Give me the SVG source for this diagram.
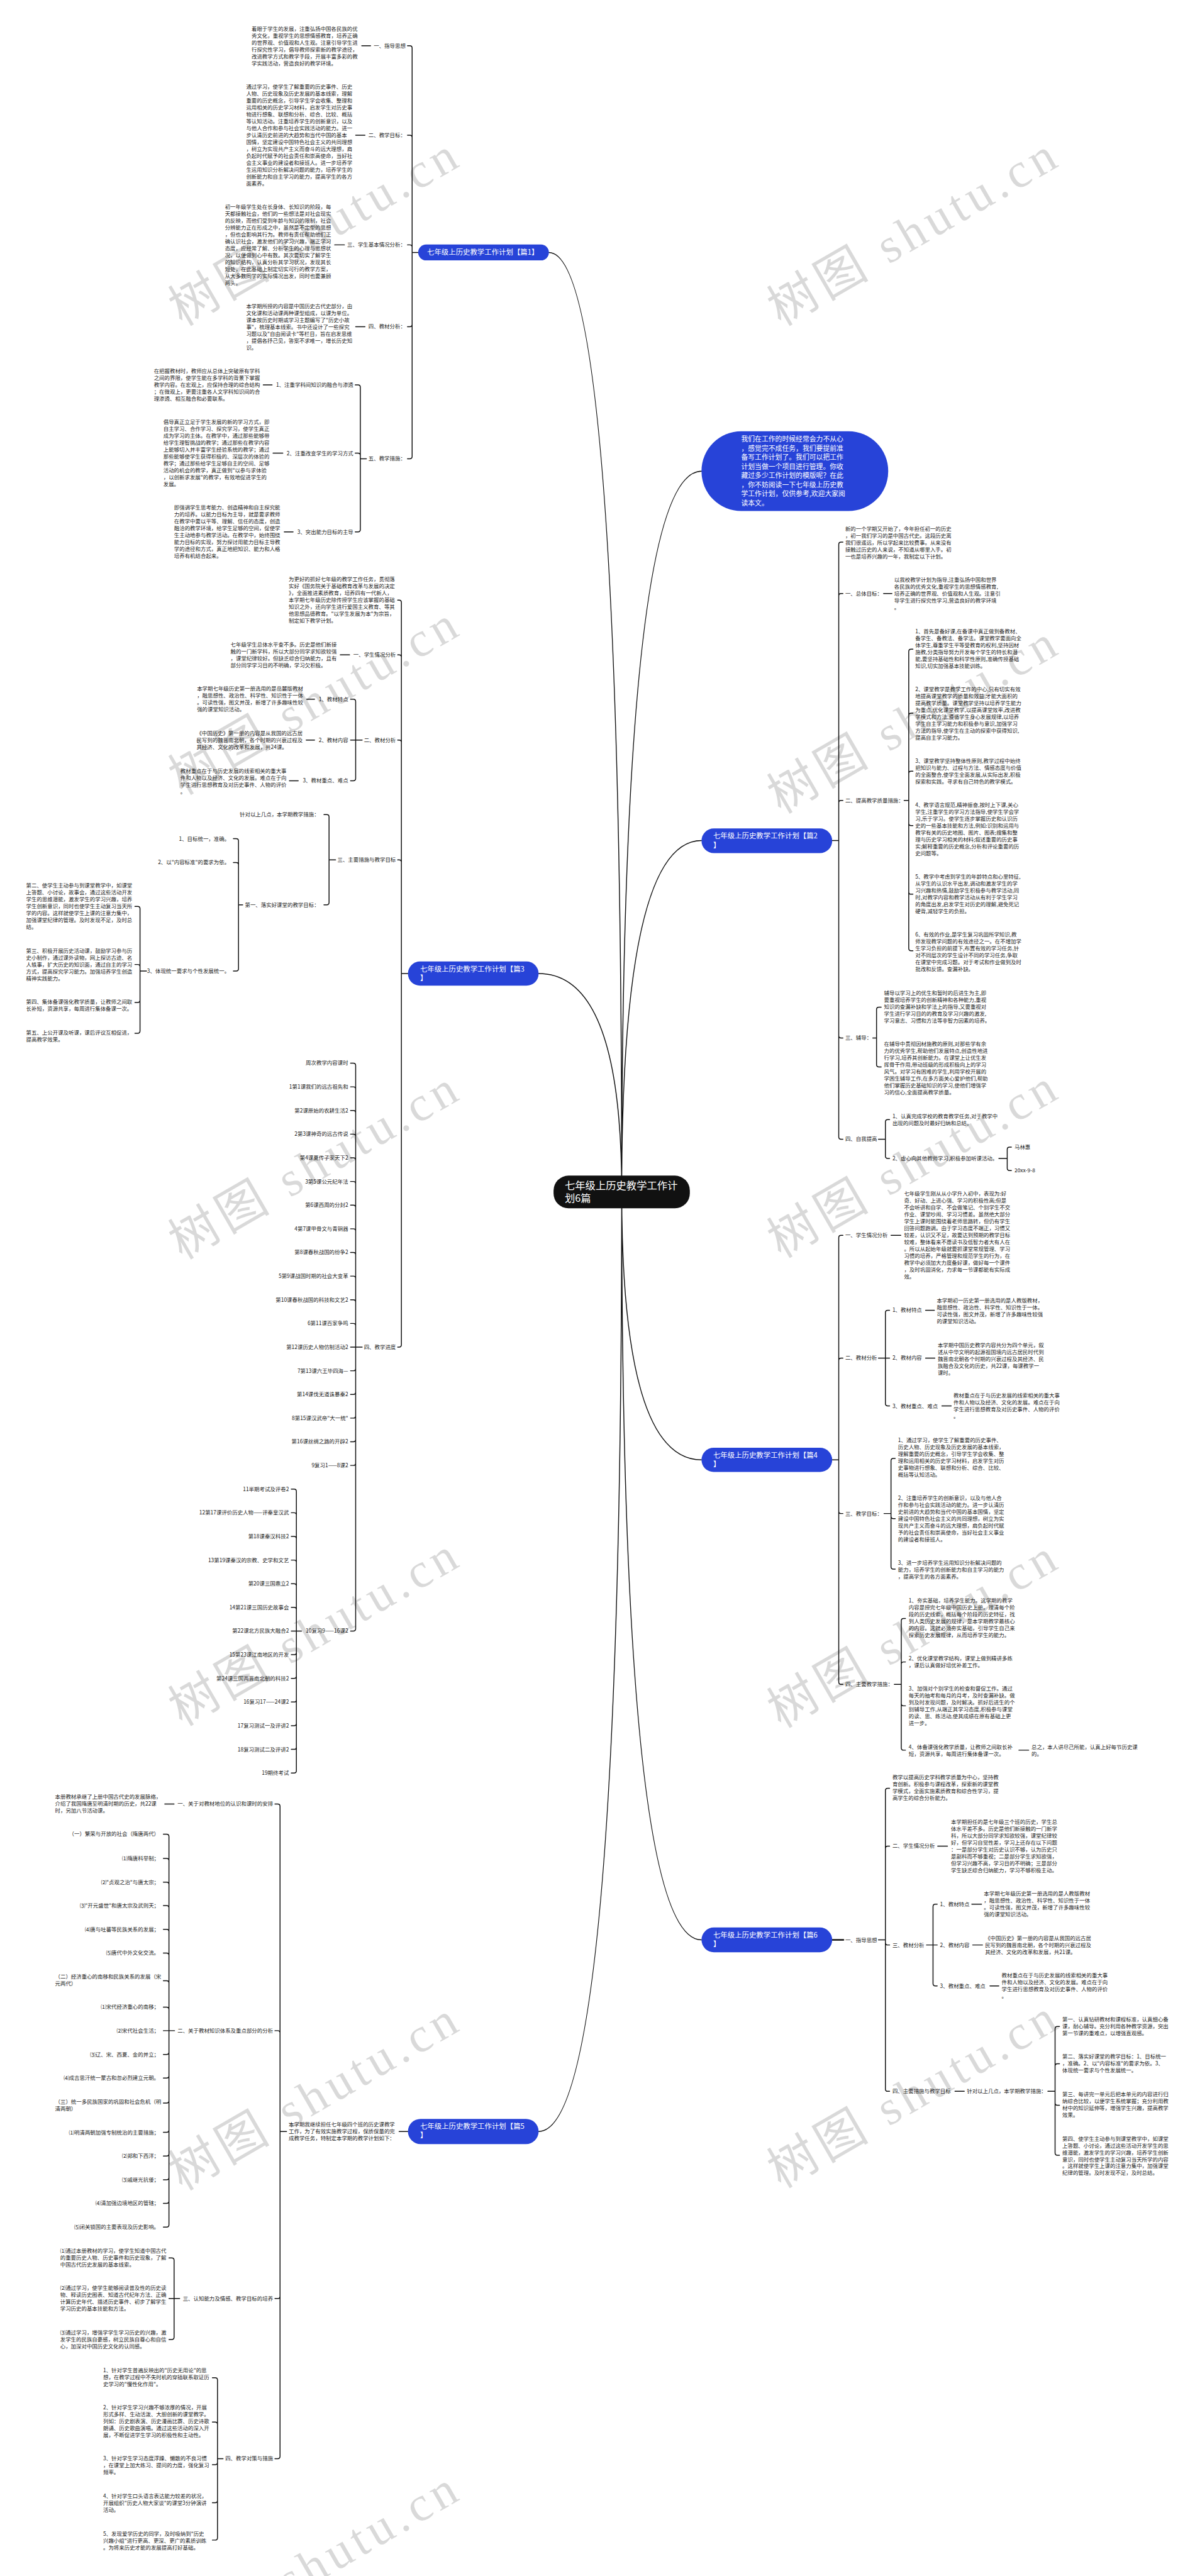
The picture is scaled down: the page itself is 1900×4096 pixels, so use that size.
<svg xmlns="http://www.w3.org/2000/svg" width="1900" height="4096" viewBox="0 0 1900 4096">
<style>
.t{font-family:"Noto Sans CJK SC","Liberation Sans",sans-serif;font-size:11.4px;fill:#1a1a1a}
.r{text-anchor:end}
.nt{font-family:"Noto Sans CJK SC","Liberation Sans",sans-serif;font-size:15.4px;fill:#fff}
.ct{font-family:"Noto Sans CJK SC","Liberation Sans",sans-serif;font-size:22px;fill:#fff}
.bn{fill:#2743d8}
.c{fill:none;stroke:#111;stroke-width:2;stroke-linecap:round;stroke-linejoin:round}
.wm{font-family:"Liberation Serif","Noto Sans CJK SC",serif;font-size:105px;fill:#000;fill-opacity:0.15}
</style>
<rect width="1900" height="4096" fill="#fff"/>
<g transform="scale(0.7421)">
<g id="watermarks" class="wm">
<text x="390" y="700" transform="rotate(-30 390 700)" textLength="690">树图 shutu.cn</text>
<text x="1673" y="700" transform="rotate(-30 1673 700)" textLength="690">树图 shutu.cn</text>
<text x="390" y="1705" transform="rotate(-30 390 1705)" textLength="690">树图 shutu.cn</text>
<text x="1673" y="1745" transform="rotate(-30 1673 1745)" textLength="690">树图 shutu.cn</text>
<text x="390" y="2700" transform="rotate(-30 390 2700)" textLength="690">树图 shutu.cn</text>
<text x="1673" y="2697" transform="rotate(-30 1673 2697)" textLength="690">树图 shutu.cn</text>
<text x="390" y="3700" transform="rotate(-30 390 3700)" textLength="690">树图 shutu.cn</text>
<text x="1673" y="3704" transform="rotate(-30 1673 3704)" textLength="690">树图 shutu.cn</text>
<text x="390" y="4695" transform="rotate(-30 390 4695)" textLength="690">树图 shutu.cn</text>
<text x="1673" y="4690" transform="rotate(-30 1673 4690)" textLength="690">树图 shutu.cn</text>
<text x="390" y="5700" transform="rotate(-30 390 5700)" textLength="690">树图 shutu.cn</text>
</g>
<g id="connectors" class="c">
<path d="M1332,2554Q1332,1009.5 1503,1009.5 M1332,2554Q1332,1801 1503,1801 M1332,2554Q1332,3128 1503,3128 M1332,2554Q1332,4156.5 1503,4156.5 M1332,2554Q1332,541 1176,541 M1332,2554Q1332,2086 1154,2086 M1332,2554Q1332,4567 1154,4567"/>
<path d="M896,541H883 M883,541V103Q883,98 878,98H873 M883,541V294.6Q883,289.6 878,289.6H873 M883,541V529.7Q883,524.7 878,524.7H873 M883,541V695Q883,700 878,700H873 M883,541V978Q883,983 878,983H873"/>
<path d="M785,983H772 M772,983V829.6Q772,824.6 767,824.6H761 M772,983V976Q772,971 767,971H761 M772,983V1134.6Q772,1139.6 767,1139.6H761"/>
<path d="M775,98H794 M762,289.6H782 M717,524.7H738 M762,700H782 M564,824.6H583 M585,971H606 M609,1139.6H628"/>
<path d="M874,2086H860 M860,2086V1291Q860,1286 855,1286H852 M860,2086V1408Q860,1403 855,1403H852 M860,2086V1590.6Q860,1585.6 855,1585.6H852 M860,2086V1847.5Q860,1842.5 855,1842.5H852 M860,2086V2881.4Q860,2886.4 855,2886.4H852"/>
<path d="M776,1585.6H762 M762,1585.6V1503Q762,1498 757,1498H751 M762,1585.6H751 M762,1585.6V1667.8Q762,1672.8 757,1672.8H751"/>
<path d="M719,1842.5H705 M705,1842.5V1750.5Q705,1745.5 700,1745.5H694 M705,1842.5V1933.8Q705,1938.8 700,1938.8H694"/>
<path d="M520,1938.8H511 M511,1938.8V1802Q511,1797 506,1797H500 M511,1938.8V1853Q511,1848 506,1848H500 M511,1938.8V2075.5Q511,2080.5 506,2080.5H500"/>
<path d="M314,2080.5H300 M300,2080.5V1947Q300,1942 295,1942H289 M300,2080.5V2071.6Q300,2066.6 295,2066.6H289 M300,2080.5V2143Q300,2148 295,2148H289 M300,2080.5V2209Q300,2214 295,2214H289"/>
<path d="M729,1403H749 M657,1498H674 M656,1585.6H674 M620,1672.8H639"/>
<path d="M776,2886.4H762 M762,2886.4V2283Q762,2278 757,2278H751 M762,2886.4V2333.7Q762,2328.7 757,2328.7H751 M762,2886.4V2384.4Q762,2379.4 757,2379.4H751 M762,2886.4V2435.1Q762,2430.1 757,2430.1H751 M762,2886.4V2485.8Q762,2480.8 757,2480.8H751 M762,2886.4V2536.5Q762,2531.5 757,2531.5H751 M762,2886.4V2587.2Q762,2582.2 757,2582.2H751 M762,2886.4V2637.9Q762,2632.9 757,2632.9H751 M762,2886.4V2688.6Q762,2683.6 757,2683.6H751 M762,2886.4V2739.3Q762,2734.3 757,2734.3H751 M762,2886.4V2790Q762,2785 757,2785H751 M762,2886.4V2840.7Q762,2835.7 757,2835.7H751 M762,2886.4H751 M762,2886.4V2932.1Q762,2937.1 757,2937.1H751 M762,2886.4V2982.8Q762,2987.8 757,2987.8H751 M762,2886.4V3033.5Q762,3038.5 757,3038.5H751 M762,2886.4V3084.2Q762,3089.2 757,3089.2H751 M762,2886.4V3134.9Q762,3139.9 757,3139.9H751 M762,2886.4V3489.8Q762,3494.8 757,3494.8H751"/>
<path d="M646,3494.8H635 M635,3494.8V3195.6Q635,3190.6 630,3190.6H624 M635,3494.8V3246.3Q635,3241.3 630,3241.3H624 M635,3494.8V3297Q635,3292 630,3292H624 M635,3494.8V3347.7Q635,3342.7 630,3342.7H624 M635,3494.8V3398.4Q635,3393.4 630,3393.4H624 M635,3494.8V3449.1Q635,3444.1 630,3444.1H624 M635,3494.8H624 M635,3494.8V3540.5Q635,3545.5 630,3545.5H624 M635,3494.8V3591.2Q635,3596.2 630,3596.2H624 M635,3494.8V3641.9Q635,3646.9 630,3646.9H624 M635,3494.8V3692.6Q635,3697.6 630,3697.6H624 M635,3494.8V3743.3Q635,3748.3 630,3748.3H624 M635,3494.8V3794Q635,3799 630,3799H624"/>
<path d="M855,4567H874 M614,4567H600 M600,4567V3870.4Q600,3865.4 595,3865.4H589 M600,4567V4356Q600,4351 595,4351H589 M600,4567V4920Q600,4925 595,4925H589 M600,4567V5263Q600,5268 595,5268H589 M353,3865.4H373"/>
<path d="M374,4351H362 M362,4351V3935Q362,3930 357,3930H350 M362,4351V3986.8Q362,3981.8 357,3981.8H350 M362,4351V4037.7Q362,4032.7 357,4032.7H350 M362,4351V4088Q362,4083 357,4083H350 M362,4351V4138.8Q362,4133.8 357,4133.8H350 M362,4351V4189.7Q362,4184.7 357,4184.7H350 M362,4351V4249Q362,4244 357,4244H350 M362,4351V4305.5Q362,4300.5 357,4300.5H350 M362,4351H350 M362,4351V4397Q362,4402 357,4402H350 M362,4351V4447.5Q362,4452.5 357,4452.5H350 M362,4351V4501Q362,4506 357,4506H350 M362,4351V4563.9Q362,4568.9 357,4568.9H350 M362,4351V4614.7Q362,4619.7 357,4619.7H350 M362,4351V4665.6Q362,4670.6 357,4670.6H350 M362,4351V4716Q362,4721 357,4721H350 M362,4351V4767Q362,4772 357,4772H350"/>
<path d="M385,4925H373 M373,4925V4843Q373,4838 368,4838H362 M373,4925H362 M373,4925V5007.8Q373,5012.8 368,5012.8H362"/>
<path d="M478,5268H466 M466,5268V5099.8Q466,5094.8 461,5094.8H455 M466,5268V5194.6Q466,5189.6 461,5189.6H455 M466,5268V5276Q466,5281 461,5281H455 M466,5268V5357.5Q466,5362.5 461,5362.5H455 M466,5268V5437.5Q466,5442.5 461,5442.5H455"/>
<path d="M1783,1801H1797 M1797,1801V1166.5Q1797,1161.5 1802,1161.5H1806 M1797,1801V1276.8Q1797,1271.8 1802,1271.8H1806 M1797,1801V1720Q1797,1715 1802,1715H1806 M1797,1801V2219Q1797,2224 1802,2224H1806 M1797,1801V2436Q1797,2441 1802,2441H1806 M1893,1271.8H1911"/>
<path d="M1937,1715H1947 M1947,1715V1396Q1947,1391 1952,1391H1956 M1947,1715V1533Q1947,1528 1952,1528H1956 M1947,1715V1657.5Q1947,1652.5 1952,1652.5H1956 M1947,1715V1764Q1947,1769 1952,1769H1956 M1947,1715V1911Q1947,1916 1952,1916H1956 M1947,1715V2032Q1947,2037 1952,2037H1956"/>
<path d="M1870,2224H1878 M1878,2224V2163Q1878,2158 1883,2158H1888 M1878,2224V2281Q1878,2286 1883,2286H1888"/>
<path d="M1882,2441H1897 M1897,2441V2404Q1897,2399 1902,2399H1906 M1897,2441V2477Q1897,2482 1902,2482H1906 M2140,2482H2158 M2158,2482V2463Q2158,2458 2163,2458H2167 M2158,2482V2503Q2158,2508 2163,2508H2167"/>
<path d="M1783,3128H1797 M1797,3128V2652Q1797,2647 1802,2647H1806 M1797,3128V2915Q1797,2910 1802,2910H1806 M1797,3128V3238Q1797,3243 1802,3243H1806 M1797,3128V3604Q1797,3609 1802,3609H1806"/>
<path d="M1882,2910H1897 M1897,2910V2812.5Q1897,2807.5 1902,2807.5H1906 M1897,2910H1906 M1897,2910V3007.5Q1897,3012.5 1902,3012.5H1906"/>
<path d="M1894,3243H1909 M1909,3243V3130Q1909,3125 1914,3125H1918 M1909,3243V3249Q1909,3254 1914,3254H1918 M1909,3243V3357Q1909,3362 1914,3362H1918"/>
<path d="M1916,3609H1931 M1931,3609V3473Q1931,3468 1936,3468H1940 M1931,3609V3566Q1931,3561 1936,3561H1940 M1931,3609V3650Q1931,3655 1936,3655H1940 M1931,3609V3745Q1931,3750 1936,3750H1940"/>
<path d="M1909,2647H1930 M1983,2807.5H2002 M1983,2910H2003 M2018,3012.5H2038 M2183,3750H2204"/>
<path d="M1783,4156.5H1807" stroke-width="3.5"/>
<path d="M1882,4156.5H1897 M1897,4156.5V3836.6Q1897,3831.6 1902,3831.6H1906 M1897,4156.5V3960.6Q1897,3955.6 1902,3955.6H1906 M1897,4156.5V4162.4Q1897,4167.4 1902,4167.4H1906 M1897,4156.5V4476Q1897,4481 1902,4481H1906"/>
<path d="M1985,4167.4H1999 M1999,4167.4V4085Q1999,4080 2004,4080H2008 M1999,4167.4H2008 M1999,4167.4V4250Q1999,4255 2004,4255H2008"/>
<path d="M2245,4481H2260.5 M2260.5,4481V4347Q2260.5,4342 2265.5,4342H2270 M2260.5,4481V4427Q2260.5,4422 2265.5,4422H2270 M2260.5,4481V4505.7Q2260.5,4510.7 2265.5,4510.7H2270 M2260.5,4481V4613Q2260.5,4618 2265.5,4618H2270"/>
<path d="M2009,3955.6H2030 M2082,4080H2103 M2084,4167.4H2105 M2121,4255H2140 M2046,4481H2066"/>
</g>

<g id="center"><rect x="1186" y="2519" width="292" height="70" rx="32" fill="#111"/><text class="ct" x="1210" y="2547.7"><tspan x="1210">七年级上历史教学工作计</tspan><tspan x="1210" dy="28">划6篇</tspan></text></g>

<g id="intro"><rect x="1503" y="924" width="400" height="171" rx="85" class="bn"/><text class="nt" style="font-size:14.6px" x="1588" y="946.1"><tspan x="1588">我们在工作的时候经常会力不从心</tspan><tspan x="1588" dy="19.6">，感觉完不成任务，我们要提前准</tspan><tspan x="1588" dy="19.6">备写工作计划了。我们可以把工作</tspan><tspan x="1588" dy="19.6">计划当做一个项目进行管理。你收</tspan><tspan x="1588" dy="19.6">藏过多少工作计划的模版呢？在此</tspan><tspan x="1588" dy="19.6">，你不妨阅读一下七年级上历史教</tspan><tspan x="1588" dy="19.6">学工作计划，仅供参考,欢迎大家阅</tspan><tspan x="1588" dy="19.6">读本文。</tspan></text></g>

<!-- 篇1 -->
<g id="p1"><rect x="896" y="524" width="280" height="34" rx="17" class="bn"/><text class="nt" x="915" y="546.4">七年级上历史教学工作计划【篇1】</text></g>
<g id="p1-l1"><text class="t r" x="869" y="102">一、指导思想</text></g>
<g id="p1-l2"><text class="t r" x="869" y="293.6">二、教学目标：</text></g>
<g id="p1-l3"><text class="t r" x="869" y="528.7">三、学生基本情况分析：</text></g>
<g id="p1-l4"><text class="t r" x="869" y="704">四、教材分析：</text></g>
<g id="p1-l5"><text class="t r" x="869" y="987">五、教学措施：</text></g>
<g id="p1-t1"><text class="t" x="539" y="65.8"><tspan x="539">着眼于学生的发展，注重弘扬中国各民族的优</tspan><tspan x="539" dy="14.8">秀文化，重视学生的思想情感教育，培养正确</tspan><tspan x="539" dy="14.8">的世界观、价值观和人生观。注意引导学生进</tspan><tspan x="539" dy="14.8">行探究性学习，倡导教师探索新的教学途径，</tspan><tspan x="539" dy="14.8">改进教学方式和教学手段，开展丰富多彩的教</tspan><tspan x="539" dy="14.8">学实践活动，营造良好的教学环境。</tspan></text></g>
<g id="p1-t2"><text class="t" x="527.4" y="190"><tspan x="527.4">通过学习，使学生了解重要的历史事件、历史</tspan><tspan x="527.4" dy="14.8">人物、历史现象及历史发展的基本线索，理解</tspan><tspan x="527.4" dy="14.8">重要的历史概念，引导学生学会收集、整理和</tspan><tspan x="527.4" dy="14.8">运用相关的历史学习材料，启发学生对历史事</tspan><tspan x="527.4" dy="14.8">物进行想象、联想和分析、综合、比较、概括</tspan><tspan x="527.4" dy="14.8">等认知活动。注重培养学生的创新意识，以及</tspan><tspan x="527.4" dy="14.8">与他人合作和参与社会实践活动的能力。进一</tspan><tspan x="527.4" dy="14.8">步认清历史前进的大趋势和当代中国的基本</tspan><tspan x="527.4" dy="14.8">国情，坚定建设中国特色社会主义的共同理想</tspan><tspan x="527.4" dy="14.8">，树立为实现共产主义而奋斗的远大理想，肩</tspan><tspan x="527.4" dy="14.8">负起时代赋予的社会责任和崇高使命，当好社</tspan><tspan x="527.4" dy="14.8">会主义事业的建设者和接班人。进一步培养学</tspan><tspan x="527.4" dy="14.8">生运用知识分析解决问题的能力，培养学生的</tspan><tspan x="527.4" dy="14.8">创新能力和自主学习的能力，提高学生的各方</tspan><tspan x="527.4" dy="14.8">面素养。</tspan></text></g>
<g id="p1-t3"><text class="t" x="482" y="447.5"><tspan x="482">初一年级学生处在长身体、长知识的阶段，每</tspan><tspan x="482" dy="14.8">天都接触社会，他们的一些想法是对社会现实</tspan><tspan x="482" dy="14.8">的反映，而他们受到年龄与知识的限制，社会</tspan><tspan x="482" dy="14.8">分辨能力正在形成之中，虽然是不定型的思想</tspan><tspan x="482" dy="14.8">，但也会影响其行为。教师有责任帮助他们正</tspan><tspan x="482" dy="14.8">确认识社会，激发他们的学习兴趣，端正学习</tspan><tspan x="482" dy="14.8">态度，应经常了解、分析学生的心理与思想状</tspan><tspan x="482" dy="14.8">况，以便做到心中有数。其次要切实了解学生</tspan><tspan x="482" dy="14.8">的知识结构，认真分析其学习状况，发现其长</tspan><tspan x="482" dy="14.8">短处，在此基础上制定切实可行的教学方案，</tspan><tspan x="482" dy="14.8">从大多数同学的实际情况出发，同时也要兼顾</tspan><tspan x="482" dy="14.8">两头。</tspan></text></g>
<g id="p1-t4"><text class="t" x="527.4" y="660"><tspan x="527.4">本学期所授的内容是中国历史古代史部分，由</tspan><tspan x="527.4" dy="14.8">文化课和活动课两种课型组成，以课为单位。</tspan><tspan x="527.4" dy="14.8">课本按历史时期或学习主题编写了"历史小故</tspan><tspan x="527.4" dy="14.8">事"，梳理基本线索。书中还设计了一些探究</tspan><tspan x="527.4" dy="14.8">习题以及"自由阅读卡"等栏目，旨在启发思维</tspan><tspan x="527.4" dy="14.8">，提倡各抒己见，答案不求唯一，增长历史知</tspan><tspan x="527.4" dy="14.8">识。</tspan></text></g>
<g id="p1-l5a"><text class="t r" x="757" y="828.6">1、注重学科间知识的融合与渗透</text></g>
<g id="p1-l5b"><text class="t r" x="757" y="975">2、注重改变学生的学习方式</text></g>
<g id="p1-l5c"><text class="t r" x="757" y="1143.6">3、突出能力目标的主导</text></g>
<g id="p1-t5a"><text class="t" x="329.7" y="799"><tspan x="329.7">在把握教材时，教师应从总体上突破原有学科</tspan><tspan x="329.7" dy="14.8">之间的界限，使学生能在多学科的背景下掌握</tspan><tspan x="329.7" dy="14.8">教学内容。在宏观上，应保持合理的综合结构</tspan><tspan x="329.7" dy="14.8">；在微观上，更要注重各人文学科知识间的合</tspan><tspan x="329.7" dy="14.8">理渗透、相互融合和必要联系。</tspan></text></g>
<g id="p1-t5b"><text class="t" x="350" y="908.6"><tspan x="350">倡导真正立足于学生发展的新的学习方式，即</tspan><tspan x="350" dy="14.8">自主学习、合作学习、探究学习，使学生真正</tspan><tspan x="350" dy="14.8">成为学习的主体。在教学中，通过那些能够带</tspan><tspan x="350" dy="14.8">给学生理智挑战的教学；通过那些在教学内容</tspan><tspan x="350" dy="14.8">上能够切入并丰富学生经验系统的教学；通过</tspan><tspan x="350" dy="14.8">那些能够使学生获得积极的、深层次的体验的</tspan><tspan x="350" dy="14.8">教学；通过那些给学生足够自主的空间、足够</tspan><tspan x="350" dy="14.8">活动的机会的教学，真正做到"以参与求体验</tspan><tspan x="350" dy="14.8">，以创新求发展"的教学，有效地促进学生的</tspan><tspan x="350" dy="14.8">发展。</tspan></text></g>
<g id="p1-t5c"><text class="t" x="373" y="1092"><tspan x="373">即强调学生思考能力、创造精神和自主探究能</tspan><tspan x="373" dy="14.8">力的培养。以能力目标为主导，就是要求教师</tspan><tspan x="373" dy="14.8">在教学中要以平等、理解、信任的态度，创造</tspan><tspan x="373" dy="14.8">融洽的教学环境，给学生足够的空间，促使学</tspan><tspan x="373" dy="14.8">生主动地参与教学活动。在教学中，始终围绕</tspan><tspan x="373" dy="14.8">能力目标的实现，努力探讨用能力目标主导教</tspan><tspan x="373" dy="14.8">学的途径和方式，真正地把知识、能力和人格</tspan><tspan x="373" dy="14.8">培养有机结合起来。</tspan></text></g>

<!-- 篇3 -->
<g id="p3"><rect x="874" y="2060" width="280" height="52" rx="26" class="bn"/><text class="nt" x="900" y="2081.5"><tspan x="900">七年级上历史教学工作计划【篇3</tspan><tspan x="900" dy="19">】</tspan></text></g>
<g id="p3-ta"><text class="t" x="618.6" y="1245.4"><tspan x="618.6">为更好的抓好七年级的教学工作任务，贯彻落</tspan><tspan x="618.6" dy="14.8">实好《国务院关于基础教育改革与发展的决定</tspan><tspan x="618.6" dy="14.8">》，全面推进素质教育，培养四有一代新人，</tspan><tspan x="618.6" dy="14.8">本学期七年级历史除传授学生应该掌握的基础</tspan><tspan x="618.6" dy="14.8">知识之外，还向学生进行爱国主义教育、等其</tspan><tspan x="618.6" dy="14.8">他思想品德教育。"以学生发展为本"为宗旨，</tspan><tspan x="618.6" dy="14.8">制定如下教学计划。</tspan></text></g>
<g id="p3-lb"><text class="t r" x="848" y="1407">一、学生情况分析</text></g>
<g id="p3-tb"><text class="t" x="494" y="1384.8"><tspan x="494">七年级学生总体水平查不多。历史是他们新接</tspan><tspan x="494" dy="14.8">触的一门新学科，所以大部分同学求知欲较强</tspan><tspan x="494" dy="14.8">，课堂纪律较好。但缺乏综合归纳能力，且有</tspan><tspan x="494" dy="14.8">部分同学学习目的不明确，学习欠积极。</tspan></text></g>
<g id="p3-lc"><text class="t r" x="848" y="1589.6">二、教材分析</text></g>
<g id="p3-lc1"><text class="t r" x="746" y="1502">1、教材特点</text></g>
<g id="p3-tc1"><text class="t" x="422" y="1480"><tspan x="422">本学期七年级历史第一册选用的是岳麓版教材</tspan><tspan x="422" dy="14.8">，融思想性、政治性、科学性、知识性于一体</tspan><tspan x="422" dy="14.8">。可读性强，图文并茂，新增了许多趣味性较</tspan><tspan x="422" dy="14.8">强的课堂知识活动。</tspan></text></g>
<g id="p3-lc2"><text class="t r" x="746" y="1589.6">2、教材内容</text></g>
<g id="p3-tc2"><text class="t" x="421" y="1575"><tspan x="421">《中国历史》第一册的内容是从我国的远古居</tspan><tspan x="421" dy="14.8">民写到的魏晋南北朝，各个时期的兴衰过程及</tspan><tspan x="421" dy="14.8">其经济、文化的改革和发展，共24课。</tspan></text></g>
<g id="p3-lc3"><text class="t r" x="746" y="1676.8">3、教材重点、难点</text></g>
<g id="p3-tc3"><text class="t" x="386.5" y="1655.6"><tspan x="386.5">教材重点在于与历史发展的线索相关的重大事</tspan><tspan x="386.5" dy="14.8">件和人物以及经济、文化的发展。难点在于向</tspan><tspan x="386.5" dy="14.8">学生进行思想教育及对历史事件、人物的评价</tspan><tspan x="386.5" dy="14.8">。</tspan></text></g>
<g id="p3-ld"><text class="t r" x="848" y="1846.5">三、主要措施与教学目标</text></g>
<g id="p3-ld1"><text class="t r" x="684" y="1749.5">针对以上几点，本学期教学措施：</text></g>
<g id="p3-ld2"><text class="t r" x="684" y="1942.8">第一、落实好课堂的教学目标：</text></g>
<g id="p3-ld2a"><text class="t r" x="492" y="1801">1、目标统一，准确。</text></g>
<g id="p3-ld2b"><text class="t r" x="492" y="1852">2、以"内容标准"的要求为依。</text></g>
<g id="p3-ld2c"><text class="t r" x="492" y="2084.5">3、体现统一要求与个性发展统一。</text></g>
<g id="p3-tx2"><text class="t" x="56" y="1901.5"><tspan x="56">第二、使学生主动参与到课堂教学中，如课堂</tspan><tspan x="56" dy="14.8">上答题、小讨论，故事会，通过这些活动开发</tspan><tspan x="56" dy="14.8">学生的思维潜能，激发学生的学习兴趣，培养</tspan><tspan x="56" dy="14.8">学生创新意识，同时也使学生主动复习当天所</tspan><tspan x="56" dy="14.8">学的内容。这样就使学生上课的注意力集中，</tspan><tspan x="56" dy="14.8">加强课堂纪律的管理。及时发现不足，及时总</tspan><tspan x="56" dy="14.8">结。</tspan></text></g>
<g id="p3-tx3"><text class="t" x="56" y="2041.5"><tspan x="56">第三、积极开展历史活动课，鼓励学习参与历</tspan><tspan x="56" dy="14.8">史小制作，通过课外读物，网上探访古迹、名</tspan><tspan x="56" dy="14.8">人轶事，扩大历史的知识面，通过自主的学习</tspan><tspan x="56" dy="14.8">方式，提高探究学习能力。加强培养学生创造</tspan><tspan x="56" dy="14.8">精神实践能力。</tspan></text></g>
<g id="p3-tx4"><text class="t" x="56" y="2151"><tspan x="56">第四、集体备课强化教学质量，让教师之间取</tspan><tspan x="56" dy="14.8">长补短，资源共享，每周进行集体备课一次。</tspan></text></g>
<g id="p3-tx5"><text class="t" x="56" y="2216.6"><tspan x="56">第五、上公开课及听课，课后评议互相促进，</tspan><tspan x="56" dy="14.8">提高教学效果。</tspan></text></g>
<g id="p3-le"><text class="t r" x="848" y="2890.4">四、教学进度</text></g>
<g id="p3-lessons" class="t r">
<g id="ls0"><text x="746" y="2282">周次教学内容课时</text></g>
<g id="ls1"><text x="746" y="2332.7">1第1课我们的远古祖先和</text></g>
<g id="ls2"><text x="746" y="2383.4">第2课原始的农耕生活2</text></g>
<g id="ls3"><text x="746" y="2434.1">2第3课神奇的远古传说</text></g>
<g id="ls4"><text x="746" y="2484.8">第4课夏传子家天下2</text></g>
<g id="ls5"><text x="746" y="2535.5">3第5课公元纪年法</text></g>
<g id="ls6"><text x="746" y="2586.2">第6课西周的分封2</text></g>
<g id="ls7"><text x="746" y="2636.9">4第7课甲骨文与青铜器</text></g>
<g id="ls8"><text x="746" y="2687.6">第8课春秋战国的纷争2</text></g>
<g id="ls9"><text x="746" y="2738.3">5第9课战国时期的社会大变革</text></g>
<g id="ls10"><text x="746" y="2789">第10课春秋战国的科技和文艺2</text></g>
<g id="ls11"><text x="746" y="2839.7">6第11课百家争鸣</text></g>
<g id="ls12"><text x="746" y="2890.4">第12课历史人物仿制活动2</text></g>
<g id="ls13"><text x="746" y="2941.1">7第13课六王毕四海—</text></g>
<g id="ls14"><text x="746" y="2991.8">第14课伐无道诛暴秦2</text></g>
<g id="ls15"><text x="746" y="3042.5">8第15课汉武帝"大一统"</text></g>
<g id="ls16"><text x="746" y="3093.2">第16课丝绸之路的开辟2</text></g>
<g id="ls17"><text x="746" y="3143.9">9复习1——8课2</text></g>
<g id="ls24"><text x="746" y="3498.8">10复习9——16课2</text></g>
<g id="ls18"><text x="619" y="3194.6">11半期考试及评卷2</text></g>
<g id="ls19"><text x="619" y="3245.3">12第17课评价历史人物——评秦皇汉武</text></g>
<g id="ls20"><text x="619" y="3296">第18课秦汉科技2</text></g>
<g id="ls21"><text x="619" y="3346.7">13第19课秦汉的宗教、史学和文艺</text></g>
<g id="ls22"><text x="619" y="3397.4">第20课三国鼎立2</text></g>
<g id="ls23"><text x="619" y="3448.1">14第21课三国历史故事会</text></g>
<g id="ls25"><text x="619" y="3498.8">第22课北方民族大融合2</text></g>
<g id="ls26"><text x="619" y="3549.5">15第23课江南地区的开发</text></g>
<g id="ls27"><text x="619" y="3600.2">第24课三国两晋南北朝的科技2</text></g>
<g id="ls28"><text x="619" y="3650.9">16复习17——24课2</text></g>
<g id="ls29"><text x="619" y="3701.6">17复习测试一及评讲2</text></g>
<g id="ls30"><text x="619" y="3752.3">18复习测试二及评讲2</text></g>
<g id="ls31"><text x="619" y="3803">19期终考试</text></g>
</g>

<!-- 篇5 -->
<g id="p5"><rect x="874" y="4540" width="280" height="54" rx="27" class="bn"/><text class="nt" x="900" y="4561.3"><tspan x="900">七年级上历史教学工作计划【篇5</tspan><tspan x="900" dy="19.5">】</tspan></text></g>
<g id="p5-t0"><text class="t" x="618.6" y="4555.9"><tspan x="618.6">本学期我继续担任七年级四个班的历史课教学</tspan><tspan x="618.6" dy="14.8">工作，为了有效实施教学过程，保质保量的完</tspan><tspan x="618.6" dy="14.8">成教学任务，特制定本学期的教学计划如下：</tspan></text></g>
<g id="p5-la"><text class="t r" x="585" y="3869.4">一、关于对教材地位的认识和课时的安排</text></g>
<g id="p5-ta"><text class="t" x="118" y="3854"><tspan x="118">本册教材承继了上册中国古代史的发展脉络，</tspan><tspan x="118" dy="14.8">介绍了我国隋唐至明清时期的历史，共22课</tspan><tspan x="118" dy="14.8">时，另加八节活动课。</tspan></text></g>
<g id="p5-lb"><text class="t r" x="585" y="4355">二、关于教材知识体系及重点部分的分析</text></g>
<g id="p5-items" class="t">
<g id="i1"><text class="r" x="341" y="3934">（一）繁荣与开放的社会（隋唐两代）</text></g>
<g id="i2"><text class="r" x="341" y="3985.8">⑴隋唐科举制；</text></g>
<g id="i3"><text class="r" x="341" y="4036.7">⑵"贞观之治"与唐太宗；</text></g>
<g id="i4"><text class="r" x="341" y="4087">⑶"开元盛世"和唐太宗及武则天；</text></g>
<g id="i5"><text class="r" x="341" y="4137.8">⑷唐与吐蕃等民族关系的发展；</text></g>
<g id="i6"><text class="r" x="341" y="4188.7">⑸唐代中外文化交流。</text></g>
<g id="i7"><text x="118" y="4239"><tspan x="118">（二）经济重心的南移和民族关系的发展（宋</tspan><tspan x="118" dy="15">元两代）</tspan></text></g>
<g id="i8"><text class="r" x="341" y="4304.5">⑴宋代经济重心的南移；</text></g>
<g id="i9"><text class="r" x="341" y="4355">⑵宋代社会生活；</text></g>
<g id="i10"><text class="r" x="341" y="4406">⑶辽、宋、西夏、金的并立；</text></g>
<g id="i11"><text class="r" x="341" y="4456.5">⑷成吉思汗统一蒙古和忽必烈建立元朝。</text></g>
<g id="i12"><text x="118" y="4507.4"><tspan x="118">（三）统一多民族国家的巩固和社会危机（明</tspan><tspan x="118" dy="15">清两朝）</tspan></text></g>
<g id="i13"><text class="r" x="341" y="4572.9">⑴明清两朝加强专制统治的主要措施；</text></g>
<g id="i14"><text class="r" x="341" y="4623.7">⑵郑和下西洋；</text></g>
<g id="i15"><text class="r" x="341" y="4674.6">⑶戚继光抗倭；</text></g>
<g id="i16"><text class="r" x="341" y="4725">⑷清加强边境地区的管辖；</text></g>
<g id="i17"><text class="r" x="341" y="4776">⑸闭关锁国的主要表现及历史影响。</text></g>
</g>
<g id="p5-lc"><text class="t r" x="585" y="4929">三、认知能力及情感、教学目标的培养</text></g>
<g id="p5-tc1"><text class="t" x="129" y="4827"><tspan x="129">⑴通过本册教材的学习，使学生知道中国古代</tspan><tspan x="129" dy="14.8">的重要历史人物、历史事件和历史现象，了解</tspan><tspan x="129" dy="14.8">中国古代历史发展的基本线索。</tspan></text></g>
<g id="p5-tc2"><text class="t" x="129" y="4907"><tspan x="129">⑵通过学习，使学生能够阅读普及性的历史读</tspan><tspan x="129" dy="14.8">物、释读历史图表、知道古代纪年方法、正确</tspan><tspan x="129" dy="14.8">计算历史年代、描述历史事件、初步了解学生</tspan><tspan x="129" dy="14.8">学习历史的基本技能和方法。</tspan></text></g>
<g id="p5-tc3"><text class="t" x="129" y="5002"><tspan x="129">⑶通过学习，增强学学生学习历史的兴趣，激</tspan><tspan x="129" dy="14.8">发学生的民族自豪感，树立民族自尊心和自信</tspan><tspan x="129" dy="14.8">心，加深对中国历史文化的认同感。</tspan></text></g>
<g id="p5-ld"><text class="t r" x="585" y="5272">四、教学对策与措施</text></g>
<g id="p5-td1"><text class="t" x="221" y="5082.6"><tspan x="221">1、针对学生普遍反映出的"历史无用论"的思</tspan><tspan x="221" dy="14.8">想，在教学过程中不失时机的穿插联系取证历</tspan><tspan x="221" dy="14.8">史学习的"慢性化作用"。</tspan></text></g>
<g id="p5-td2"><text class="t" x="221" y="5162.6"><tspan x="221">2、针对学生学习兴趣不够浓厚的情况，开展</tspan><tspan x="221" dy="14.8">形式多样、生动活泼、大胆创新的课堂教学。</tspan><tspan x="221" dy="14.8">列如：历史剧表演、历史漫画比赛、历史诗歌</tspan><tspan x="221" dy="14.8">朗诵、历史歌曲演唱。通过这些活动的深入开</tspan><tspan x="221" dy="14.8">展，不断促进学生学习的积极性和主动性。</tspan></text></g>
<g id="p5-td3"><text class="t" x="221" y="5272"><tspan x="221">3、针对学生学习态度浮躁、懒散的不良习惯</tspan><tspan x="221" dy="14.8">，在课堂上加大练习、提问的力度，强化复习</tspan><tspan x="221" dy="14.8">频率。</tspan></text></g>
<g id="p5-td4"><text class="t" x="221" y="5352"><tspan x="221">4、针对学生口头语言表达能力较差的状况，</tspan><tspan x="221" dy="14.8">开展组织"历史人物大家谈"的课堂3分钟演讲</tspan><tspan x="221" dy="14.8">活动。</tspan></text></g>
<g id="p5-td5"><text class="t" x="221" y="5432.8"><tspan x="221">5、发现爱学历史的同学，及时吸纳到"历史</tspan><tspan x="221" dy="14.8">兴趣小组"进行更高、更深、更广的素质训练</tspan><tspan x="221" dy="14.8">。为将来历史才能的发展提高打好基础。</tspan></text></g>

<!-- 篇2 -->
<g id="p2"><rect x="1503" y="1775" width="280" height="53" rx="26.5" class="bn"/><text class="nt" x="1528" y="1796.9"><tspan x="1528">七年级上历史教学工作计划【篇2</tspan><tspan x="1528" dy="19">】</tspan></text></g>
<g id="p2-ta"><text class="t" x="1811" y="1136.8"><tspan x="1811">新的一个学期又开始了，今年担任初一的历史</tspan><tspan x="1811" dy="14.8">，初一我们学习的是中国古代史。这段历史离</tspan><tspan x="1811" dy="14.8">我们很遥远，所以学起来比较费事。从来没有</tspan><tspan x="1811" dy="14.8">接触过历史的人来说，不知道从哪里入手。初</tspan><tspan x="1811" dy="14.8">一也是培养兴趣的一年，我制定以下计划。</tspan></text></g>
<g id="p2-lb"><text class="t" x="1811" y="1275.8">一、总体目标：</text></g>
<g id="p2-tb"><text class="t" x="1916" y="1246.5"><tspan x="1916">以我校教学计划为指导,注重弘扬中国和世界</tspan><tspan x="1916" dy="14.8">各民族的优秀文化,重视学生的思想情感教育,</tspan><tspan x="1916" dy="14.8">培养正确的世界观、价值观和人生观。注意引</tspan><tspan x="1916" dy="14.8">导学生进行探究性学习,营造良好的教学环境</tspan><tspan x="1916" dy="14.8">。</tspan></text></g>
<g id="p2-lc"><text class="t" x="1811" y="1719">二、提高教学质量措施：</text></g>
<g id="p2-tc1"><text class="t" x="1961" y="1356.8"><tspan x="1961">1、首先是备好课,在备课中真正做到备教材、</tspan><tspan x="1961" dy="14.8">备学生、备教法、备学法。课堂教学要面向全</tspan><tspan x="1961" dy="14.8">体学生,尊重学生平等受教育的权利,坚持因材</tspan><tspan x="1961" dy="14.8">施教,分类指导努力开发每个学生的特长和潜</tspan><tspan x="1961" dy="14.8">能,要坚持基础性和科学性原则,准确传授基础</tspan><tspan x="1961" dy="14.8">知识,切实加强基本技能训练。</tspan></text></g>
<g id="p2-tc2"><text class="t" x="1961" y="1480.5"><tspan x="1961">2、课堂教学是教学工作的中心,只有切实有效</tspan><tspan x="1961" dy="14.8">地提高课堂教学的质量和效益,才能大面积的</tspan><tspan x="1961" dy="14.8">提高教学质量。课堂教学坚持以培养学生能力</tspan><tspan x="1961" dy="14.8">为重点,优化课堂教学,以提高课堂效率,改进教</tspan><tspan x="1961" dy="14.8">学模式和方法,遵循学生身心发展规律,以培养</tspan><tspan x="1961" dy="14.8">学生自主学习能力和积极参与意识,加强学习</tspan><tspan x="1961" dy="14.8">方法的指导,使学生在主动的探索中获得知识,</tspan><tspan x="1961" dy="14.8">提高自主学习能力。</tspan></text></g>
<g id="p2-tc3"><text class="t" x="1961" y="1634"><tspan x="1961">3、课堂教学坚持整体性原则,教学过程中始终</tspan><tspan x="1961" dy="14.8">把知识与能力、过程与方法、情感态度与价值</tspan><tspan x="1961" dy="14.8">的全面整合,使学生全面发展,从实际出发,积极</tspan><tspan x="1961" dy="14.8">探索和实践。寻求有自己特色的教学模式。</tspan></text></g>
<g id="p2-tc4"><text class="t" x="1961" y="1729"><tspan x="1961">4、教学语言规范,精神振奋,按时上下课,关心</tspan><tspan x="1961" dy="14.8">学生,注重学生的学习方法指导,使学生学会学</tspan><tspan x="1961" dy="14.8">习,乐于学习。使学生逐步掌握历史和认识历</tspan><tspan x="1961" dy="14.8">史的一些基本技能和方法,例如:识别和运用与</tspan><tspan x="1961" dy="14.8">教学有关的历史地图、图片、图表;搜集和整</tspan><tspan x="1961" dy="14.8">理与历史学习相关的材料;叙述重要的历史事</tspan><tspan x="1961" dy="14.8">实;解释重要的历史概念,分析和评论重要的历</tspan><tspan x="1961" dy="14.8">史问题等。</tspan></text></g>
<g id="p2-tc5"><text class="t" x="1961" y="1883"><tspan x="1961">5、教学中考虑到学生的年龄特点和心里特征,</tspan><tspan x="1961" dy="14.8">从学生的认识水平出发,调动和激发学生的学</tspan><tspan x="1961" dy="14.8">习兴趣和热情,鼓励学生积极参与教学活动,同</tspan><tspan x="1961" dy="14.8">时,对教学内容和教学活动从有利于学生学习</tspan><tspan x="1961" dy="14.8">的角度出发,启发学生对历史的理解,避免死记</tspan><tspan x="1961" dy="14.8">硬背,减轻学生的负担。</tspan></text></g>
<g id="p2-tc6"><text class="t" x="1961" y="2007"><tspan x="1961">6、有效的作业,是学生复习巩固所学知识,教</tspan><tspan x="1961" dy="14.8">师发现教学问题的有效途径之一。在不增加学</tspan><tspan x="1961" dy="14.8">生学习负担的前提下,布置有效的学习任务,针</tspan><tspan x="1961" dy="14.8">对不同层次的学生设计不同的学习任务,争取</tspan><tspan x="1961" dy="14.8">在课堂中完成习题。对于考试和作业做到及时</tspan><tspan x="1961" dy="14.8">批改和反馈。查漏补缺。</tspan></text></g>
<g id="p2-ld"><text class="t" x="1811" y="2228">三、辅导：</text></g>
<g id="p2-td1"><text class="t" x="1894" y="2131.7"><tspan x="1894">辅导以学习上的优生和暂时的后进生为主,即</tspan><tspan x="1894" dy="14.8">要重视培养学生的创新精神和各种能力,重视</tspan><tspan x="1894" dy="14.8">知识的查漏补缺和学法上的指导,又要重视对</tspan><tspan x="1894" dy="14.8">学生进行学习目的的教育及学习兴趣的激发,</tspan><tspan x="1894" dy="14.8">学习意志、习惯和方法等非智力因素的培养。</tspan></text></g>
<g id="p2-td2"><text class="t" x="1894" y="2241"><tspan x="1894">在辅导中贯彻因材施教的原则,对那些学有余</tspan><tspan x="1894" dy="14.8">力的优秀学生,帮助他们发展特点,创造性地进</tspan><tspan x="1894" dy="14.8">行学习,培养其创新能力。在课堂上让优生发</tspan><tspan x="1894" dy="14.8">挥骨干作用,带动班级的形成积极向上的学习</tspan><tspan x="1894" dy="14.8">风气。对学习有困难的学生,利用学校开展的</tspan><tspan x="1894" dy="14.8">学困生辅导工作,在多方面关心爱护他们,帮助</tspan><tspan x="1894" dy="14.8">他们掌握历史基础知识的学习,使他们增强学</tspan><tspan x="1894" dy="14.8">习的信心,全面提高教学质量。</tspan></text></g>
<g id="p2-le"><text class="t" x="1811" y="2445">四、自我提高</text></g>
<g id="p2-te1"><text class="t" x="1912" y="2395.7"><tspan x="1912">1、认真完成学校的教育教学任务,对于教学中</tspan><tspan x="1912" dy="14.8">出现的问题及时最好归纳和总结。</tspan></text></g>
<g id="p2-te2"><text class="t" x="1912" y="2486">2、虚心向其他教师学习,积极参加听课活动。</text></g>
<g id="p2-te2a"><text class="t" x="2173.5" y="2462">马林惠</text></g>
<g id="p2-te2b"><text class="t" x="2173.5" y="2512">20xx-9-8</text></g>

<!-- 篇4 -->
<g id="p4"><rect x="1503" y="3102" width="280" height="52" rx="26" class="bn"/><text class="nt" x="1528" y="3124"><tspan x="1528">七年级上历史教学工作计划【篇4</tspan><tspan x="1528" dy="18.5">】</tspan></text></g>
<g id="p4-la"><text class="t" x="1811" y="2651">一、学生情况分析</text></g>
<g id="p4-ta"><text class="t" x="1937" y="2561.5"><tspan x="1937">七年级学生刚从从小学升入初中，表现为:好</tspan><tspan x="1937" dy="14.8">奇、好动、上进心强、学习的积极性高;但是</tspan><tspan x="1937" dy="14.8">不会听讲和自学、不会做笔记、个别学生不交</tspan><tspan x="1937" dy="14.8">作业、课堂吵闹、学习习惯差。虽然绝大部分</tspan><tspan x="1937" dy="14.8">学生上课时能围绕着老师思路转，但仍有学生</tspan><tspan x="1937" dy="14.8">回答问题跑调。由于学习态度不端正，习惯又</tspan><tspan x="1937" dy="14.8">较差，认识又不足，故要达到预期的教学目标</tspan><tspan x="1937" dy="14.8">较难，整体看来不愿读书及低智力者大有人在</tspan><tspan x="1937" dy="14.8">。所以从起始年级就要抓课堂常规管理、学习</tspan><tspan x="1937" dy="14.8">习惯的培养，严格管理和规范学生的行为，在</tspan><tspan x="1937" dy="14.8">教学中必须加大力度备好课，做好每一个课件</tspan><tspan x="1937" dy="14.8">，及时巩固消化，力求每一节课都能有实际成</tspan><tspan x="1937" dy="14.8">效。</tspan></text></g>
<g id="p4-lb"><text class="t" x="1811" y="2914">二、教材分析</text></g>
<g id="p4-lb1"><text class="t" x="1912" y="2811.5">1、教材特点</text></g>
<g id="p4-tb1"><text class="t" x="2007" y="2790.5"><tspan x="2007">本学期初一历史第一册选用的是人教版教材，</tspan><tspan x="2007" dy="14.8">融思想性、政治性、科学性、知识性于一体。</tspan><tspan x="2007" dy="14.8">可读性强，图文并茂，新增了许多趣味性较强</tspan><tspan x="2007" dy="14.8">的课堂知识活动。</tspan></text></g>
<g id="p4-lb2"><text class="t" x="1912" y="2914">2、教材内容</text></g>
<g id="p4-tb2"><text class="t" x="2009" y="2886"><tspan x="2009">本学期中国历史教学内容共分为四个单元，叙</tspan><tspan x="2009" dy="14.8">述从中华文明的起源祖国境内远古居民时代到</tspan><tspan x="2009" dy="14.8">魏晋南北朝各个时期的兴衰过程及其经济、民</tspan><tspan x="2009" dy="14.8">族融合及文化的历史，共22课，每课教学一</tspan><tspan x="2009" dy="14.8">课时。</tspan></text></g>
<g id="p4-lb3"><text class="t" x="1912" y="3016.5">3、教材重点、难点</text></g>
<g id="p4-tb3"><text class="t" x="2043" y="2994.7"><tspan x="2043">教材重点在于与历史发展的线索相关的重大事</tspan><tspan x="2043" dy="14.8">件和人物以及经济、文化的发展。难点在于向</tspan><tspan x="2043" dy="14.8">学生进行思想教育及对历史事件、人物的评价</tspan><tspan x="2043" dy="14.8">。</tspan></text></g>
<g id="p4-lc"><text class="t" x="1811" y="3247">三、教学目标：</text></g>
<g id="p4-tc1"><text class="t" x="1924" y="3089.4"><tspan x="1924">1、通过学习，使学生了解重要的历史事件、</tspan><tspan x="1924" dy="14.8">历史人物、历史现象及历史发展的基本线索，</tspan><tspan x="1924" dy="14.8">理解重要的历史概念，引导学生学会收集、整</tspan><tspan x="1924" dy="14.8">理和运用相关的历史学习材料，启发学生对历</tspan><tspan x="1924" dy="14.8">史事物进行想象、联想和分析、综合、比较、</tspan><tspan x="1924" dy="14.8">概括等认知活动。</tspan></text></g>
<g id="p4-tc2"><text class="t" x="1924" y="3214"><tspan x="1924">2、注重培养学生的创新意识，以及与他人合</tspan><tspan x="1924" dy="14.8">作和参与社会实践活动的能力。进一步认清历</tspan><tspan x="1924" dy="14.8">史前进的大趋势和当代中国的基本国情，坚定</tspan><tspan x="1924" dy="14.8">建设中国特色社会主义的共同理想，树立为实</tspan><tspan x="1924" dy="14.8">现共产主义而奋斗的远大理想，肩负起时代赋</tspan><tspan x="1924" dy="14.8">予的社会责任和崇高使命，当好社会主义事业</tspan><tspan x="1924" dy="14.8">的建设者和接班人。</tspan></text></g>
<g id="p4-tc3"><text class="t" x="1924" y="3353"><tspan x="1924">3、进一步培养学生运用知识分析解决问题的</tspan><tspan x="1924" dy="14.8">能力，培养学生的创新能力和自主学习的能力</tspan><tspan x="1924" dy="14.8">，提高学生的各方面素养。</tspan></text></g>
<g id="p4-ld"><text class="t" x="1811" y="3613">四、主要教学措施：</text></g>
<g id="p4-td1"><text class="t" x="1947" y="3433"><tspan x="1947">1、夯实基础，培养学生能力。这学期的教学</tspan><tspan x="1947" dy="14.8">内容是授完七年级中国历史上册。理清每个阶</tspan><tspan x="1947" dy="14.8">段的历史线索，概括每个阶段的历史特征，找</tspan><tspan x="1947" dy="14.8">到人类历史发展的规律，是本学期教学最核心</tspan><tspan x="1947" dy="14.8">的内容。这就必须夯实基础，引导学生自己来</tspan><tspan x="1947" dy="14.8">探索历史发展规律，从而培养学生的能力。</tspan></text></g>
<g id="p4-td2"><text class="t" x="1947" y="3558"><tspan x="1947">2、优化课堂教学结构，课堂上做到精讲多练</tspan><tspan x="1947" dy="14.8">，课后认真做好培优补差工作。</tspan></text></g>
<g id="p4-td3"><text class="t" x="1947" y="3622.7"><tspan x="1947">3、加强对个别学生的检查和督促工作。通过</tspan><tspan x="1947" dy="14.8">每天的抽考和每月的月考，及时查漏补缺。做</tspan><tspan x="1947" dy="14.8">到及时发现问题，及时解决。抓好后进生的个</tspan><tspan x="1947" dy="14.8">别辅导工作,从端正其学习态度,积极参与课堂</tspan><tspan x="1947" dy="14.8">的读、思、练活动,使其成绩在原有基础上更</tspan><tspan x="1947" dy="14.8">进一步。</tspan></text></g>
<g id="p4-td4"><text class="t" x="1947" y="3748"><tspan x="1947">4、体备课强化教学质量，让教师之间取长补</tspan><tspan x="1947" dy="14.8">短，资源共享，每周进行集体备课一次。</tspan></text></g>
<g id="p4-td5"><text class="t" x="2210" y="3748"><tspan x="2210">总之，本人讲尽己所能，认真上好每节历史课</tspan><tspan x="2210" dy="14.8">的。</tspan></text></g>

<!-- 篇6 -->
<g id="p6"><rect x="1503" y="4130" width="280" height="53" rx="26.5" class="bn"/><text class="nt" x="1528" y="4152.3"><tspan x="1528">七年级上历史教学工作计划【篇6</tspan><tspan x="1528" dy="18.7">】</tspan></text></g>
<g id="p6-l0"><text class="t" x="1811" y="4160.5">一、指导思想</text></g>
<g id="p6-ta"><text class="t" x="1912" y="3812.6"><tspan x="1912">教学以提高历史学科教学质量为中心，坚持教</tspan><tspan x="1912" dy="14.8">育创新。积极参与课程改革，探索新的课堂教</tspan><tspan x="1912" dy="14.8">学模式，全面实施素质教育和综合性学习，提</tspan><tspan x="1912" dy="14.8">高学生的综合分析能力。</tspan></text></g>
<g id="p6-lb"><text class="t" x="1912" y="3959.6">二、学生情况分析</text></g>
<g id="p6-tb"><text class="t" x="2037.6" y="3908"><tspan x="2037.6">本学期担任的是七年级三个班的历史，学生总</tspan><tspan x="2037.6" dy="14.8">体水平差不多。历史是他们新接触的一门新学</tspan><tspan x="2037.6" dy="14.8">科，所以大部分同学求知欲较强，课堂纪律较</tspan><tspan x="2037.6" dy="14.8">好，但学习自觉性差，学习上还存在以下问题</tspan><tspan x="2037.6" dy="14.8">：一是部分学生对历史认识不够，认为历史只</tspan><tspan x="2037.6" dy="14.8">是副科而不够重视；二是部分学生求知欲强，</tspan><tspan x="2037.6" dy="14.8">但学习兴趣不高，学习目的不明确；三是部分</tspan><tspan x="2037.6" dy="14.8">学生缺乏综合归纳能力，学习不够积极主动。</tspan></text></g>
<g id="p6-lc"><text class="t" x="1912" y="4171.4">三、教材分析</text></g>
<g id="p6-lc1"><text class="t" x="2014" y="4084">1、教材特点</text></g>
<g id="p6-tc1"><text class="t" x="2108" y="4061.7"><tspan x="2108">本学期七年级历史第一册选用的是人教版教材</tspan><tspan x="2108" dy="14.8">，融思想性、政治性、科学性、知识性于一体</tspan><tspan x="2108" dy="14.8">。可读性强，图文并茂，新增了许多趣味性较</tspan><tspan x="2108" dy="14.8">强的课堂知识活动。</tspan></text></g>
<g id="p6-lc2"><text class="t" x="2014" y="4171.4">2、教材内容</text></g>
<g id="p6-tc2"><text class="t" x="2110.5" y="4156.5"><tspan x="2110.5">《中国历史》第一册的内容是从我国的远古居</tspan><tspan x="2110.5" dy="14.8">民写到的魏晋南北朝，各个时期的兴衰过程及</tspan><tspan x="2110.5" dy="14.8">其经济、文化的改革和发展，共21课。</tspan></text></g>
<g id="p6-lc3"><text class="t" x="2014" y="4259">3、教材重点、难点</text></g>
<g id="p6-tc3"><text class="t" x="2146" y="4237"><tspan x="2146">教材重点在于与历史发展的线索相关的重大事</tspan><tspan x="2146" dy="14.8">件和人物以及经济、文化的发展。难点在于向</tspan><tspan x="2146" dy="14.8">学生进行思想教育及对历史事件、人物的评价</tspan><tspan x="2146" dy="14.8">。</tspan></text></g>
<g id="p6-ld"><text class="t" x="1912" y="4485">四、主要措施与教学目标</text></g>
<g id="p6-ld0"><text class="t" x="2071.5" y="4485">针对以上几点，本学期教学措施：</text></g>
<g id="p6-td1"><text class="t" x="2276" y="4331"><tspan x="2276">第一、认真钻研教材和课程标准，认真细心备</tspan><tspan x="2276" dy="14.8">课，耐心辅导。充分利用各种教学资源，突出</tspan><tspan x="2276" dy="14.8">第一节课的重难点，以增强直观感。</tspan></text></g>
<g id="p6-td2"><text class="t" x="2276" y="4411"><tspan x="2276">第二、落实好课堂的教学目标：1、目标统一</tspan><tspan x="2276" dy="14.8">，准确。2、以"内容标准"的要求为依。3、</tspan><tspan x="2276" dy="14.8">体现统一要求与个性发展统一。</tspan></text></g>
<g id="p6-td3"><text class="t" x="2276" y="4491.7"><tspan x="2276">第三、每讲完一单元后把本单元的内容进行归</tspan><tspan x="2276" dy="14.8">纳综合比较，以便学生系统掌握；充分利用教</tspan><tspan x="2276" dy="14.8">材中的知识延伸等，增强学生兴趣，提高教学</tspan><tspan x="2276" dy="14.8">效果。</tspan></text></g>
<g id="p6-td4"><text class="t" x="2276" y="4586.4"><tspan x="2276">第四、使学生主动参与到课堂教学中，如课堂</tspan><tspan x="2276" dy="14.8">上答题、小讨论，通过这些活动开发学生的思</tspan><tspan x="2276" dy="14.8">维潜能，激发学生的学习兴趣，培养学生创新</tspan><tspan x="2276" dy="14.8">意识，同时也使学生主动复习当天所学的内容</tspan><tspan x="2276" dy="14.8">。这样就使学生上课的注意力集中，加强课堂</tspan><tspan x="2276" dy="14.8">纪律的管理。及时发现不足，及时总结。</tspan></text></g>
</g>
</svg>
